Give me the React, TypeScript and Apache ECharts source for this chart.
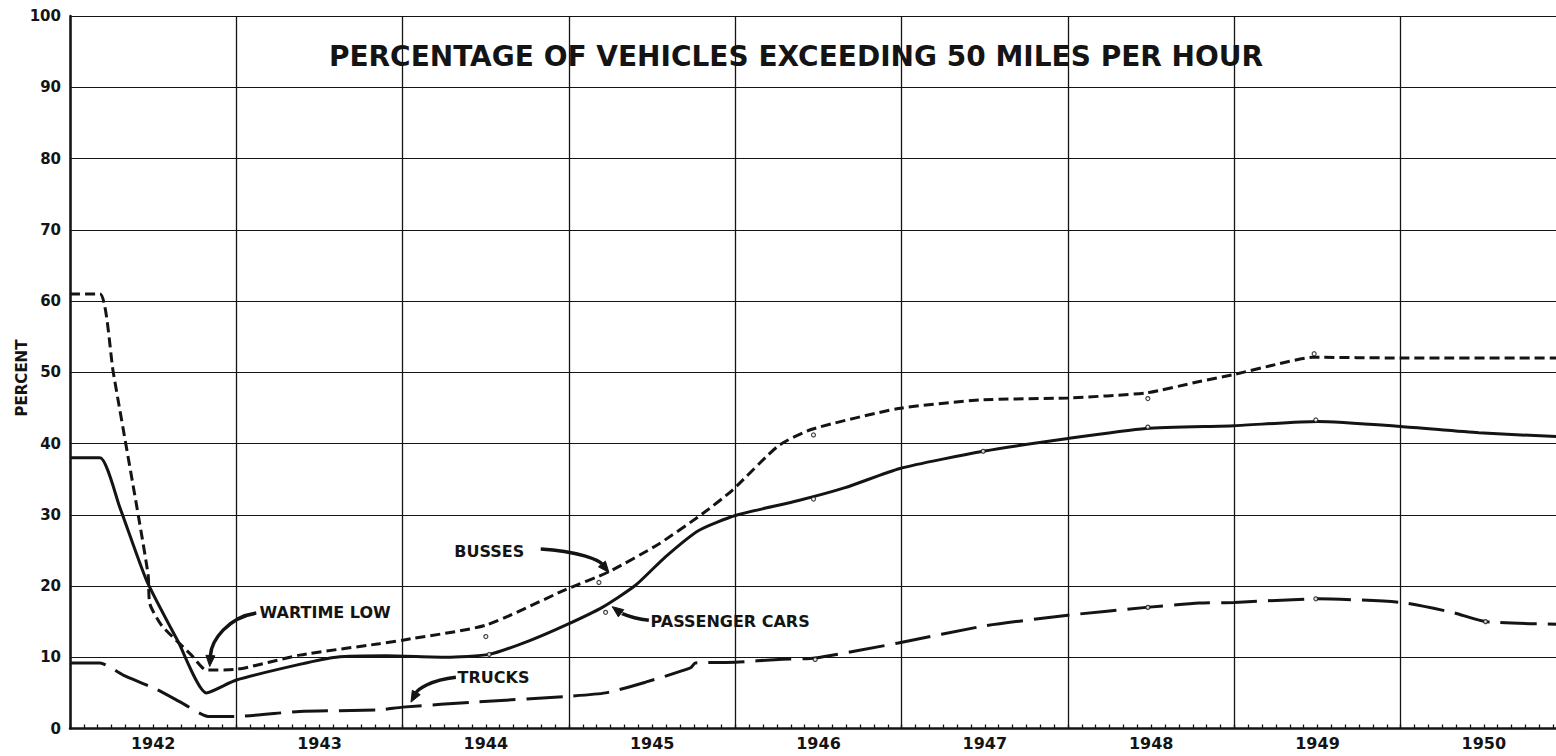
import React, { useEffect, useRef } from "react";
import * as echarts from "echarts";

// ---------- text ----------
const TITLE = "PERCENTAGE OF VEHICLES EXCEEDING 50 MILES PER HOUR";
const Y_AXIS_NAME = "PERCENT";
const YEAR_LABELS = ["1942", "1943", "1944", "1945", "1946", "1947", "1948", "1949", "1950"];

// ---------- series values: [year, percent] ----------
const passengerCars: number[][] = [
  [1942.0, 38.0], [1942.18, 38.0], [1942.3, 31.0], [1942.46, 20.8], [1942.65, 12.2],
  [1942.82, 5.0], [1943.0, 6.8], [1943.38, 9.0], [1943.6, 10.0], [1943.9, 10.2],
  [1944.26, 10.0], [1944.52, 10.4], [1944.76, 12.3], [1944.98, 14.5], [1945.2, 17.0],
  [1945.4, 20.1], [1945.58, 24.1], [1945.78, 27.8], [1946.0, 29.9], [1946.38, 32.0],
  [1946.66, 33.8], [1946.99, 36.5], [1947.49, 38.9], [1948.0, 40.7], [1948.47, 42.1],
  [1949.0, 42.5], [1949.5, 43.1], [1950.0, 42.4], [1950.47, 41.5], [1951.0, 40.9],
];

const busses: number[][] = [
  [1942.0, 61.0], [1942.18, 61.0], [1942.26, 50.0], [1942.41, 30.0], [1942.47, 21.5],
  [1942.48, 17.5], [1942.55, 14.5], [1942.73, 10.3], [1942.82, 8.2], [1943.0, 8.3],
  [1943.38, 10.3], [1943.86, 11.9], [1944.0, 12.4], [1944.5, 14.5], [1944.98, 19.5],
  [1945.24, 22.0], [1945.54, 25.9], [1945.8, 30.1], [1945.98, 33.4], [1946.26, 39.7],
  [1946.46, 42.0], [1946.98, 44.9], [1947.47, 46.1], [1948.0, 46.4], [1948.47, 47.1],
  [1948.79, 48.7], [1949.0, 49.7], [1949.27, 51.2], [1949.47, 52.1], [1950.0, 52.0],
  [1951.0, 52.0],
];

const trucks: number[][] = [
  [1942.0, 9.2], [1942.18, 9.2], [1942.32, 7.5], [1942.52, 5.5], [1942.68, 3.5],
  [1942.83, 1.7], [1943.0, 1.7], [1943.38, 2.4], [1943.86, 2.6], [1944.0, 3.0],
  [1944.46, 3.75], [1944.98, 4.5], [1945.22, 5.0], [1945.46, 6.5], [1945.73, 8.5],
  [1945.76, 9.2], [1946.0, 9.3], [1946.26, 9.7], [1946.48, 9.9], [1946.98, 12.0],
  [1947.5, 14.4], [1948.0, 15.9], [1948.47, 17.0], [1948.79, 17.6], [1949.0, 17.7],
  [1949.5, 18.2], [1950.0, 17.7], [1950.31, 16.3], [1950.51, 15.0], [1951.0, 14.6],
];

// plotted survey observations (small circles)
const observations: number[][] = [
  [1944.52, 10.4], [1945.22, 16.3], [1946.47, 32.2], [1947.49, 38.9], [1948.48, 42.3], [1949.49, 43.3],
  [1944.5, 12.9], [1945.18, 20.5], [1946.47, 41.2], [1948.48, 46.3], [1949.48, 52.6],
  [1946.48, 9.7], [1948.48, 17.0], [1949.49, 18.2], [1950.51, 15.0],
];

// ---------- annotations (anchor in data coords) ----------
const annotationTexts = ["WARTIME LOW", "BUSSES", "PASSENGER CARS", "TRUCKS"];
const annotationAnchors: number[][] = [
  [1943.14, 16.35], [1944.31, 24.8], [1945.49, 15.0], [1944.33, 7.16],
];
const annotationArrows: number[][][] = [
  [[1943.12, 16.2], [1942.95, 15.6], [1942.85, 12.4], [1942.84, 8.7]],
  [[1944.83, 25.2], [1945.06, 24.9], [1945.18, 23.6], [1945.24, 21.9]],
  [[1945.48, 15.2], [1945.36, 15.5], [1945.3, 16.4], [1945.26, 17.1]],
  [[1944.32, 7.2], [1944.16, 6.8], [1944.09, 5.4], [1944.05, 3.7]],
];

const FONT = "'DejaVu Sans', 'Liberation Sans', sans-serif";
const INK = "#141414";

export default function App() {
  const ref = useRef<HTMLDivElement>(null);

  useEffect(() => {
    document.body.style.margin = "0";
    document.body.style.overflow = "hidden";
    document.documentElement.style.overflow = "hidden";
    const chart = echarts.init(ref.current as HTMLDivElement, null, { renderer: "svg" });

    const lineBase = {
      type: "line",
      xAxisIndex: 0,
      yAxisIndex: 0,
      symbol: "none",
      showSymbol: false,
      smooth: 0.2,
      clip: true,
    };

    chart.setOption({
      animation: false,
      backgroundColor: "#ffffff",
      grid: { left: 70, right: 0, top: 16, bottom: 27.5, containLabel: false },
      xAxis: [
        {
          type: "value",
          min: 1942,
          max: 1951,
          interval: 1,
          axisLine: { show: true, onZero: false, lineStyle: { color: INK, width: 2.5 } },
          axisTick: { show: true, inside: true, length: 4, lineStyle: { color: INK, width: 1.4 } },
          minorTick: { show: true, splitNumber: 12, length: 4, lineStyle: { color: INK, width: 1.3 } },
          axisLabel: { show: false },
          splitLine: { show: true, lineStyle: { color: INK, width: 1.3 } },
        },
        {
          type: "value",
          min: 1942,
          max: 1951,
          interval: 0.5,
          position: "bottom",
          axisLine: { show: false, onZero: false },
          axisTick: { show: false },
          splitLine: { show: false },
          axisLabel: {
            show: true,
            margin: 7,
            fontSize: 16,
            fontWeight: "bold",
            fontFamily: FONT,
            color: INK,
            formatter: (v: number) => {
              const f = v - Math.floor(v);
              if (Math.abs(f - 0.5) < 1e-6) {
                const lab = YEAR_LABELS[Math.floor(v) - 1942];
                return lab ? lab : "";
              }
              return "";
            },
          },
        },
      ],
      yAxis: {
        type: "value",
        min: 0,
        max: 100,
        interval: 10,
        axisLine: { show: true, lineStyle: { color: INK, width: 2.5 } },
        axisTick: { show: false },
        axisLabel: { margin: 9, fontSize: 15, fontWeight: "bold", fontFamily: FONT, color: INK },
        splitLine: { show: true, lineStyle: { color: INK, width: 1.2 } },
      },
      series: [
        { ...lineBase, name: "PASSENGER CARS", data: passengerCars, z: 5,
          lineStyle: { color: INK, width: 3, type: "solid" } },
        { ...lineBase, name: "BUSSES", data: busses, z: 5,
          lineStyle: { color: INK, width: 3, type: [10, 5] } },
        { ...lineBase, name: "TRUCKS", data: trucks, z: 5,
          lineStyle: { color: INK, width: 3, type: [36, 11] } },
        { type: "scatter", name: "observations", data: observations, symbol: "circle", symbolSize: 4,
          itemStyle: { color: "#ffffff", borderColor: INK, borderWidth: 1.2 }, z: 6 },
      ],
    });

    const px = (p: number[]) => chart.convertToPixel({ seriesIndex: 0 }, p) as number[];
    const graphics: any[] = [];

    graphics.push({
      type: "text",
      x: 796,
      y: 56,
      z: 10,
      style: {
        text: TITLE,
        fill: INK,
        fontSize: 28,
        fontWeight: "bold",
        fontFamily: FONT,
        align: "center",
        verticalAlign: "middle",
      },
    });
    graphics.push({
      type: "text",
      x: 22,
      y: 378,
      rotation: Math.PI / 2,
      z: 10,
      style: {
        text: Y_AXIS_NAME,
        fill: INK,
        fontSize: 15,
        fontWeight: "bold",
        fontFamily: FONT,
        align: "center",
        verticalAlign: "middle",
      },
    });

    annotationTexts.forEach((t, i) => {
      const a = px(annotationAnchors[i]);
      graphics.push({
        type: "text",
        x: a[0],
        y: a[1],
        z: 10,
        style: {
          text: t,
          fill: INK,
          fontSize: 16,
          fontWeight: "bold",
          fontFamily: FONT,
          align: "left",
          verticalAlign: "middle",
        },
      });
      const [tl, c1, c2, tip] = annotationArrows[i].map(px);
      const ang = Math.atan2(tip[1] - c2[1], tip[0] - c2[0]);
      const L = 11;
      const W = 4.5;
      const base = [tip[0] - L * Math.cos(ang), tip[1] - L * Math.sin(ang)];
      const left = [base[0] + W * Math.sin(ang), base[1] - W * Math.cos(ang)];
      const right = [base[0] - W * Math.sin(ang), base[1] + W * Math.cos(ang)];
      graphics.push({
        type: "bezierCurve",
        z: 10,
        shape: {
          x1: tl[0], y1: tl[1],
          cpx1: c1[0], cpy1: c1[1],
          cpx2: c2[0], cpy2: c2[1],
          x2: base[0], y2: base[1],
        },
        style: { stroke: INK, lineWidth: 3.5, fill: null },
      });
      graphics.push({
        type: "polygon",
        z: 10,
        shape: { points: [tip, left, right] },
        style: { fill: INK, stroke: INK, lineWidth: 1 },
      });
    });

    chart.setOption({ graphic: graphics });

    return () => {
      chart.dispose();
    };
  }, []);

  return (
    <div
      ref={ref}
      style={{ position: "absolute", left: 0, top: 0, width: 1570, height: 756, background: "#fff" }}
    />
  );
}
